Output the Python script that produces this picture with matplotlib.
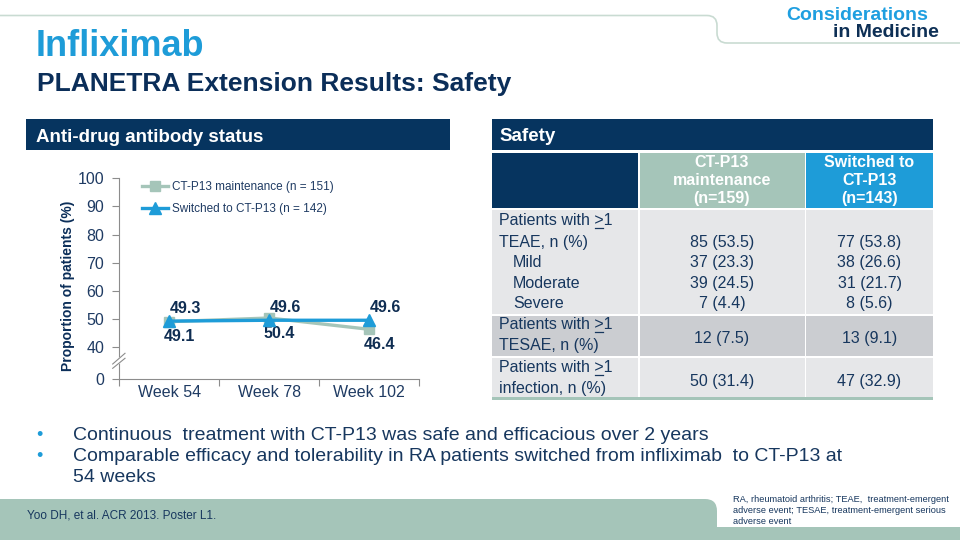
import numpy as np
import matplotlib
matplotlib.use('Agg')
import matplotlib.pyplot as plt
from matplotlib.patches import Rectangle, FancyBboxPatch, PathPatch, Polygon
from matplotlib.path import Path
from matplotlib.textpath import TextPath
from matplotlib.font_manager import FontProperties

plt.rcParams['font.family'] = ['Liberation Sans', 'DejaVu Sans']

# chart data
weeks = ['Week 54', 'Week 78', 'Week 102']
maintenance = [49.1, 50.4, 46.4]
switched = [49.3, 49.6, 49.6]
maint_label = 'CT-P13 maintenance (n = 151)'
switch_label = 'Switched to CT-P13 (n = 142)'
y_ticks = [0, 40, 50, 60, 70, 80, 90, 100]

# table data
col_heads = [['CT-P13', 'maintenance', '(n=159)'], ['Switched to', 'CT-P13', '(n=143)']]
teae_rows = ['TEAE, n (%)', 'Mild', 'Moderate', 'Severe']
teae_maint = ['85 (53.5)', '37 (23.3)', '39 (24.5)', '7 (4.4)']
teae_switch = ['77 (53.8)', '38 (26.6)', '31 (21.7)', '8 (5.6)']
other_rows = ['TESAE, n (%)', 'infection, n (%)']
other_maint = ['12 (7.5)', '50 (31.4)']
other_switch = ['13 (9.1)', '47 (32.9)']

bullets = ['Continuous  treatment with CT-P13 was safe and efficacious over 2 years',
           'Comparable efficacy and tolerability in RA patients switched from infliximab  to CT-P13 at\n54 weeks']
citation = 'Yoo DH, et al. ACR 2013. Poster L1.'
footnote = ['RA, rheumatoid arthritis; TEAE,  treatment-emergent',
            'adverse event; TESAE, treatment-emergent serious',
            'adverse event']

NAVY = '#06345f'
BLUE = '#1e9cd8'
SAGE = '#a5c5b9'
TEXT = '#17375e'
TICK = '#1f3b63'

fig = plt.figure(figsize=(9.6, 5.4), dpi=100)
bg = fig.add_axes([0, 0, 1, 1])
bg.set_xlim(0, 960)
bg.set_ylim(540, 0)
bg.axis('off')

# top decorative line
verts = [(0, 15.5), (707, 15.5), (717, 15.5), (717, 25.5), (717, 33), (717, 43), (727, 43), (960, 43)]
codes = [Path.MOVETO, Path.LINETO, Path.CURVE3, Path.CURVE3, Path.LINETO, Path.CURVE3, Path.CURVE3, Path.LINETO]
bg.add_patch(PathPatch(Path(verts, codes), fill=False, ec='#c9dbd2', lw=1.2))

# logo
bg.text(928, 20, 'Considerations', ha='right', va='baseline', fontsize=14, weight='bold', color='#1f9fe0')
bg.text(939, 37, 'in Medicine', ha='right', va='baseline', fontsize=14, weight='bold', color='#0d2f55')

# titles
bg.text(36, 56.5, 'Infliximab', ha='left', va='baseline', fontsize=26, weight='bold', color=BLUE)
bg.text(37, 91.5, 'PLANETRA Extension Results: Safety', ha='left', va='baseline', fontsize=19,
        weight='bold', color='#0b2e59')

# section bars
bg.add_patch(Rectangle((26, 119), 424, 31, color=NAVY, lw=0))
bg.text(36, 141.5, 'Anti-drug antibody status', ha='left', va='baseline', fontsize=13.5, weight='bold', color='white')
bg.add_patch(Rectangle((492, 119), 441, 31, color=NAVY, lw=0))
bg.text(499, 141, 'Safety', ha='left', va='baseline', fontsize=13.5, weight='bold', color='white')

# table
cols = [(492, 638), (639.5, 804.5), (806, 933)]
head_cols = [NAVY, SAGE, BLUE]
for (x0, x1), c in zip(cols, head_cols):
    bg.add_patch(Rectangle((x0, 153), x1 - x0, 55, color=c, lw=0))
for j, lines in enumerate(col_heads):
    xc = (cols[j + 1][0] + cols[j + 1][1]) / 2
    for k, s in enumerate(lines):
        bg.text(xc, 166.7 + 18.3 * k, s, ha='center', va='baseline', fontsize=11.5, weight='bold', color='white')

rows = [(209.5, 314), (315.5, 356), (357.5, 397)]
row_cols = ['#e6e7e9', '#cbcdd1', '#e6e7e9']
for (y0, y1), c in zip(rows, row_cols):
    for x0, x1 in cols:
        bg.add_patch(Rectangle((x0, y0), x1 - x0, y1 - y0, color=c, lw=0))
bg.add_patch(Rectangle((492, 397), 441, 3, color=SAGE, lw=0))

fp = FontProperties(family=['Liberation Sans', 'DejaVu Sans'], size=11.5)


def ge_label(x, y, s):
    # ">" drawn with an underline, as in the slide
    bg.text(x, y, s, ha='left', va='baseline', fontproperties=fp, color=TEXT)
    pre = s[:s.index('>') + 1]
    scale = 100 / 72
    x_end = TextPath((0, 0), pre, prop=fp).get_extents().x1 * scale
    w = TextPath((0, 0), '>', prop=fp).get_extents()
    x_start = x_end - (w.x1 - w.x0) * scale
    bg.plot([x + x_start, x + x_end], [y + 2.5, y + 2.5], color=TEXT, lw=0.9)


xa = (cols[1][0] + cols[1][1]) / 2
xb = (cols[2][0] + cols[2][1]) / 2
ge_label(499, 225, 'Patients with >1')
for k, s in enumerate(teae_rows):
    yb = 246.7 + 20.5 * k
    bg.text(499 if k == 0 else 513, yb, s, ha='left', va='baseline', fontproperties=fp, color=TEXT)
    bg.text(xa, yb, teae_maint[k], ha='center', va='baseline', fontproperties=fp, color=TEXT)
    bg.text(xb, yb, teae_switch[k], ha='center', va='baseline', fontproperties=fp, color=TEXT)
for k, s in enumerate(other_rows):
    yb = 329.3 + 43 * k
    ge_label(499, yb, 'Patients with >1')
    bg.text(499, yb + 20.7, s, ha='left', va='baseline', fontproperties=fp, color=TEXT)
    bg.text(xa, yb + 13.4, other_maint[k], ha='center', va='baseline', fontproperties=fp, color=TEXT)
    bg.text(xb, yb + 13.4, other_switch[k], ha='center', va='baseline', fontproperties=fp, color=TEXT)

# bullets
yb = 439.5
for s in bullets:
    bg.text(39.5, yb, '\u2022', ha='center', va='baseline', fontsize=13, color=BLUE)
    for line in s.split('\n'):
        bg.text(73, yb, line, ha='left', va='baseline', fontsize=14, color=TEXT)
        yb += 21
    yb += 0.5

# footer band
bg.add_patch(Rectangle((0, 527), 960, 13, color=SAGE, lw=0))
bg.add_patch(FancyBboxPatch((-30, 499), 747, 60, boxstyle='round,pad=0,rounding_size=12', color=SAGE, lw=0))
bg.text(27, 519, citation, ha='left', va='baseline', fontsize=8.5, color=TEXT)
for k, s in enumerate(footnote):
    bg.text(733, 501.7 + 11.3 * k, s, ha='left', va='baseline', fontsize=6.7, color=TEXT)

# line chart
ax_l, ax_r, ax_t, ax_b = 119.3, 419, 178.3, 379.3
ax = fig.add_axes([ax_l / 960, (540 - ax_b) / 540, (ax_r - ax_l) / 960, (ax_b - ax_t) / 540])
ax.set_facecolor('none')
x = np.arange(len(weeks))
zero_pos = 40 - 32 / ((347.3 - ax_t) / 60)
ax.plot(x, maintenance, color=SAGE, lw=2.4, marker='s', ms=7, label=maint_label, zorder=3)
ax.plot(x, switched, color=BLUE, lw=2.4, marker='^', ms=8, label=switch_label, zorder=4)

for i in range(len(weeks)):
    ax.annotate(f'{switched[i]}', (x[i], switched[i]), xytext=(16, 13), textcoords='offset pixels',
                ha='center', va='center', fontsize=11.5, weight='bold', color='#0f2d52')
    ax.annotate(f'{maintenance[i]}', (x[i], maintenance[i]), xytext=(10, -15), textcoords='offset pixels',
                ha='center', va='center', fontsize=11.5, weight='bold', color='#0f2d52')

ax.set_xlim(-0.5, len(weeks) - 0.5)
ax.set_ylim(zero_pos, 100)
ax.set_xticks(np.arange(len(weeks) + 1) - 0.5)
ax.set_xticklabels([])
ax.set_xticks(x, minor=True)
ax.set_xticklabels(weeks, minor=True)
ax.tick_params(axis='x', which='major', length=5, width=0.8, color='#8c8c8c', direction='out')
ax.tick_params(axis='x', which='minor', length=0, pad=4, labelsize=11.5, labelcolor=TICK)
ax.set_yticks([zero_pos if t == 0 else t for t in y_ticks])
ax.set_yticklabels([str(t) for t in y_ticks])
ax.tick_params(axis='y', length=5, width=0.8, color='#8c8c8c', direction='out', pad=6,
               labelsize=11.5, labelcolor=TICK)
for side in ['top', 'right']:
    ax.spines[side].set_visible(False)
for side in ['left', 'bottom']:
    ax.spines[side].set_color('#8c8c8c')
    ax.spines[side].set_linewidth(0.8)

ax.set_ylabel('Proportion of patients (%)', fontsize=10, weight='bold', color='#0b2e59')
ax.yaxis.label.set_va('center')
ax.yaxis.set_label_coords((68 - ax_l) / (ax_r - ax_l), (ax_b - 285.5) / (ax_b - ax_t))


def to_ax(px, py):
    return (px - ax_l) / (ax_r - ax_l), (ax_b - py) / (ax_b - ax_t)


# axis break marks
gap = [to_ax(113, 364), to_ax(125, 353.3), to_ax(125, 358.3), to_ax(113, 368.3)]
ax.add_patch(Polygon(gap, closed=True, color='white', transform=ax.transAxes, clip_on=False, zorder=5))
for p0, p1 in [((112.7, 368.3), (125, 358.3)), ((112.7, 364), (125, 353.3))]:
    a, b = to_ax(*p0), to_ax(*p1)
    ax.plot([a[0], b[0]], [a[1], b[1]], color='#8c8c8c', lw=0.8, transform=ax.transAxes,
            clip_on=False, zorder=6)

leg = ax.legend(loc='upper left', bbox_to_anchor=to_ax(142, 181), frameon=False, fontsize=8.5,
                handlelength=2.2, handletextpad=0.35, labelspacing=0.85, borderpad=0, borderaxespad=0,
                labelcolor=TICK)

fig.savefig('out.png', dpi=100)
